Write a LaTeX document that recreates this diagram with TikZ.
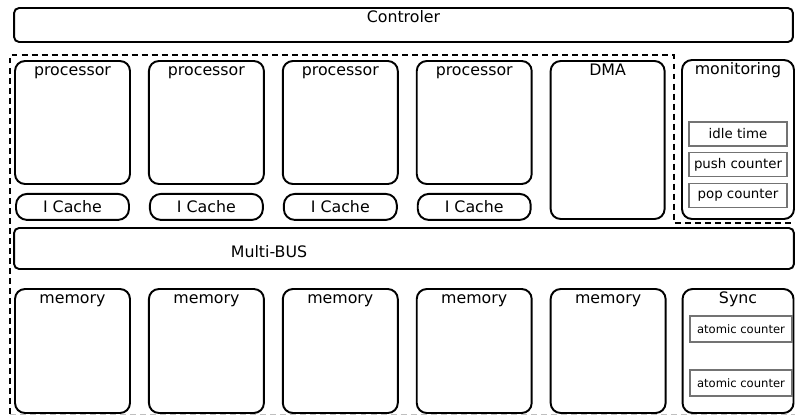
\documentclass[tikz,border=0pt]{standalone}
\usepackage{fontspec}
\setmainfont{DejaVu Sans}
\usetikzlibrary{positioning}

\tikzset{
    block/.style={draw, line width=1.1pt, rounded corners=0.2cm, minimum width=2.3cm, minimum height=2.46cm, inner sep=0pt},
    cache/.style={draw, line width=1.1pt, rounded corners=0.22cm, minimum width=2.26cm, minimum height=0.52cm, inner sep=0pt},
    countbox/.style={draw=black!55, line width=0.7pt, minimum width=1.96cm, minimum height=0.48cm, inner sep=0pt, font=\fontsize{7.6}{9}\selectfont},
    titled/.style={label={[anchor=base, yshift=-0.3cm]north:#1}},
    border/.style={line width=1.1pt, dash pattern=on 3.4pt off 2.3pt}
}

\begin{document}
\begin{tikzpicture}[x=0.02cm, y=-0.02cm, font=\fontsize{9}{10.5}\selectfont, node distance=0.34cm]
\useasboundingbox (0,0) rectangle (795,416);

% controller on top
\node[block, minimum width=15.58cm, minimum height=0.68cm, rounded corners=0.1cm, titled=Controler] (ctrl) at (403.5,25) {};

% processing part
\node[block, titled=processor] (proc1) at (72.5,122.5) {};
\node[block, titled=processor, right=of proc1] (proc2) {};
\node[block, titled=processor, right=of proc2] (proc3) {};
\node[block, titled=processor, right=of proc3] (proc4) {};
\node[block, minimum width=2.28cm, minimum height=3.16cm, titled=DMA, right=of proc4.north east, anchor=north west] (dma) {};

\node[cache, below=0.16cm of proc1] (cache1) {I Cache};
\node[cache, below=0.16cm of proc2] (cache2) {I Cache};
\node[cache, below=0.16cm of proc3] (cache3) {I Cache};
\node[cache, below=0.16cm of proc4] (cache4) {I Cache};

% monitoring
\node[block, minimum width=2.24cm, minimum height=3.18cm, titled=monitoring] (mon) at (738,139.5) {};
\node[countbox] (idle) at (738,134) {idle time};
\node[countbox, below=0.11cm of idle] (push) {push counter};
\node[countbox, below=0.11cm of push] (pop) {pop counter};

% bus
\node[block, minimum width=15.6cm, minimum height=0.82cm, rounded corners=0.1cm] (bus) at (404,248.5) {};
\node[anchor=base] (bustext) at (269,257) {Multi-BUS};

% memories
\node[block, minimum height=2.48cm, titled=memory] (mem1) at (72.5,351) {};
\node[block, minimum height=2.48cm, titled=memory, right=of mem1] (mem2) {};
\node[block, minimum height=2.48cm, titled=memory, right=of mem2] (mem3) {};
\node[block, minimum height=2.48cm, titled=memory, right=of mem3] (mem4) {};
\node[block, minimum height=2.48cm, titled=memory, right=of mem4] (mem5) {};

% sync
\node[block, minimum width=2.22cm, minimum height=2.48cm, titled=Sync, right=0.3cm of mem5] (sync) {};
\node[countbox, minimum width=2.04cm, minimum height=0.52cm, font=\fontsize{6.6}{8}\selectfont] (atom1) at (741,329) {atomic counter};
\node[countbox, minimum width=2.04cm, minimum height=0.52cm, font=\fontsize{6.6}{8}\selectfont] (atom2) at (741,383) {atomic counter};

% dashed boundary
\draw[border] (10,414) -- (10,55) -- (674,55) -- (674,223) -- (795,223);
\draw[border, black!25, line width=0.9pt] (10,414.5) -- (795,414.5);
\end{tikzpicture}
\end{document}
